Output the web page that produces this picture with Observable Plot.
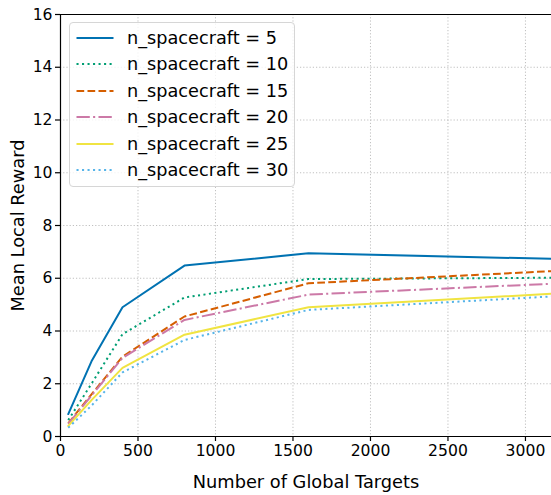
<!DOCTYPE html>
<html><head><meta charset="utf-8">
<script src="https://cdn.jsdelivr.net/npm/d3@7"></script>
<script src="https://cdn.jsdelivr.net/npm/@observablehq/plot@0.6"></script>
<style>
body{margin:0;background:#fff;font-family:"DejaVu Sans",sans-serif}
#wrap{position:relative;width:551px;height:495px;overflow:hidden}
#legend{position:absolute;left:69px;top:22px;width:224px;height:163px;border:1px solid #d6d6d6;border-radius:4px;background:rgba(255,255,255,0.8)}
.row{position:absolute;left:0;height:26px;width:224px}
.row svg{position:absolute;left:6px;top:8px}
.row span{position:absolute;left:57px;top:0;line-height:26px;font-size:17.7px;white-space:nowrap;color:#000}
</style></head>
<body><div id="wrap"></div>
<script>
const xTargets = [50, 200, 400, 800, 1600, 3200];
const nSpacecraft = [5, 10, 15, 20, 25, 30];
const r5  = [0.85, 2.85, 4.90, 6.48, 6.95, 6.73];
const r10 = [0.62, 2.00, 3.88, 5.27, 5.97, 6.02];
const r15 = [0.50, 1.60, 3.03, 4.55, 5.81, 6.28];
const r20 = [0.48, 1.55, 2.98, 4.42, 5.38, 5.80];
const r25 = [0.40, 1.38, 2.60, 3.86, 4.90, 5.42];
const r30 = [0.33, 1.17, 2.43, 3.66, 4.80, 5.32];
const xTicks = [0, 500, 1000, 1500, 2000, 2500, 3000];
const yTicks = [0, 2, 4, 6, 8, 10, 12, 14, 16];
const xLabel = "Number of Global Targets";
const yLabel = "Mean Local Reward";

const seriesValues = [r5, r10, r15, r20, r25, r30];
const colors = ["#0072B2", "#009E73", "#D55E00", "#CC79A7", "#F0E442", "#56B4E9"];
const dashes = [null, "2.08,3.43", "7.7,3.3", "13.3,3.3,2.08,3.3", null, "2.08,3.43"];

const lineMarks = seriesValues.map((vals, i) => {
  const data = xTargets.map((x, j) => ({x, y: vals[j], n: nSpacecraft[i]}));
  const opts = {x: "x", y: "y", stroke: colors[i], strokeWidth: 2, clip: true, strokeLinejoin: "round"};
  if (dashes[i]) { opts.strokeDasharray = dashes[i]; opts.strokeLinecap = "butt"; }
  return Plot.line(data, opts);
});

const gridStyle = {stroke: "#b0b0b0", strokeOpacity: 1, strokeWidth: 0.8, strokeDasharray: "1.2,2"};

const chart = Plot.plot({
  width: 551, height: 495,
  marginLeft: 60, marginRight: 0, marginTop: 14, marginBottom: 59,
  style: {fontFamily: "DejaVu Sans", fontSize: "15.6px", color: "#000", background: "white", overflow: "visible"},
  x: {domain: [0, 3168]},
  y: {domain: [0, 16]},
  marks: [
    Plot.ruleX(xTicks, gridStyle),
    Plot.ruleY(yTicks, gridStyle),
    ...lineMarks,
    Plot.ruleY([0], {stroke: "#000", strokeWidth: 1.2}),
    Plot.ruleY([16], {stroke: "#000", strokeWidth: 1.2}),
    Plot.ruleX([0], {stroke: "#000", strokeWidth: 1.2}),
    Plot.axisX(xTicks, {tickSize: 5, tickPadding: 3, fontSize: 15.6, label: null, strokeWidth: 1.2, tickFormat: d => String(d)}),
    Plot.axisY(yTicks, {tickSize: 5, tickPadding: 3, fontSize: 15.6, label: null, strokeWidth: 1.2, tickFormat: d => String(d)}),
    Plot.text([xLabel], {text: d => d, frameAnchor: "bottom", dy: 51, fontSize: 17.8}),
    Plot.text([yLabel], {text: d => d, frameAnchor: "left", dx: -42, rotate: -90, textAnchor: "middle", lineAnchor: "middle", fontSize: 17.8})
  ]
});
const wrap = document.getElementById("wrap");
wrap.appendChild(chart);

const legend = document.createElement("div");
legend.id = "legend";
const rowCenters = [14.7, 41.3, 68, 94, 120.7, 147];
nSpacecraft.forEach((n, i) => {
  const row = document.createElement("div");
  row.className = "row";
  row.style.top = (rowCenters[i] - 13) + "px";
  const dash = dashes[i] ? ` stroke-dasharray="${dashes[i]}"` : "";
  row.innerHTML = `<svg width="38" height="10"><line x1="0.5" y1="5" x2="37.5" y2="5" stroke="${colors[i]}" stroke-width="2"${dash}/></svg><span>n_spacecraft = ${n}</span>`;
  legend.appendChild(row);
});
wrap.appendChild(legend);
</script>
</body></html>
